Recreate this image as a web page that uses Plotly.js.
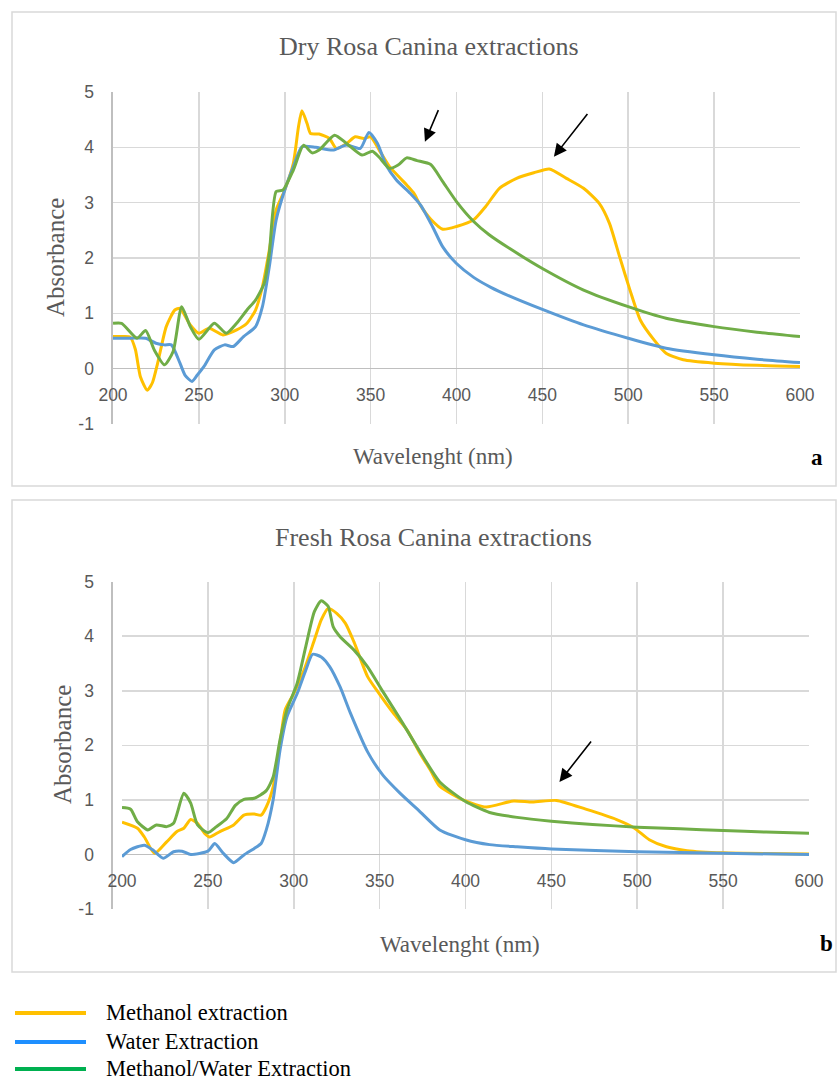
<!DOCTYPE html>
<html>
<head>
<meta charset="utf-8">
<script src="https://cdn.plot.ly/plotly-3.0.1.min.js"></script>
<style>html,body{margin:0;padding:0;background:#fff;}#chart{width:837px;height:1080px;}</style>
</head>
<body>
<div id="chart"></div>
<script>
// ---- Data ----
const seriesNames = ["Methanol extraction", "Water Extraction", "Methanol/Water Extraction"];
const panelTitles = ["Dry Rosa Canina extractions", "Fresh Rosa Canina extractions"];
const panelLabels = ["a", "b"];
const xTitle = "Wavelenght (nm)";
const yTitle = "Absorbance";
const xTicks = [200, 250, 300, 350, 400, 450, 500, 550, 600];
const yTicks = [-1, 0, 1, 2, 3, 4, 5];

// Dry extracts
const dryMethanolX = [200,205,210,213,216,220,223,226,231,236,239,245,250,256,264,272,278,283,287,291,295,300,305,308,310,313,315,320,326,330,336,341,346,350,355,361,367,371,375,379,385,392,400,410,417,425,435,445,454,464,474,483,489,495,501,507,515,522,532,550,575,600];
const dryMethanolY = [0.58,0.58,0.57,0.35,-0.15,-0.39,-0.25,0.10,0.76,1.06,1.09,0.79,0.64,0.73,0.61,0.70,0.82,1.06,1.48,2.14,2.87,3.23,3.71,4.37,4.66,4.43,4.25,4.24,4.16,3.98,4.07,4.19,4.16,4.19,3.95,3.65,3.45,3.32,3.18,2.95,2.70,2.52,2.57,2.69,2.93,3.26,3.44,3.54,3.61,3.44,3.26,2.99,2.63,2.02,1.42,0.88,0.52,0.28,0.16,0.10,0.06,0.04];

const dryWaterX = [200,210,219,225,230,234,239,242,246,249,253,259,265,270,276,283,287,291,295,300,305,310,318,328,336,344,349,354,359,365,373,379,386,392,400,410,420,431,450,474,500,522,550,575,600];
const dryWaterY = [0.55,0.55,0.55,0.46,0.43,0.43,0.10,-0.12,-0.23,-0.12,0.04,0.34,0.43,0.40,0.58,0.76,1.12,1.84,2.69,3.23,3.65,4.01,4.00,3.95,4.04,3.98,4.27,4.07,3.68,3.41,3.17,2.96,2.57,2.20,1.90,1.65,1.47,1.31,1.07,0.79,0.55,0.37,0.25,0.17,0.11];

const dryMixX = [200,205,214,219,224,230,235,240,245,250,259,266,272,278,283,288,291,295,299,305,311,316,320,329,336,345,351,355,361,366,371,377,385,392,400,410,419,431,450,474,500,522,550,575,600];
const dryMixY = [0.82,0.82,0.55,0.69,0.34,0.07,0.31,1.12,0.76,0.53,0.82,0.64,0.82,1.06,1.24,1.54,2.08,3.20,3.23,3.59,4.04,3.90,3.95,4.22,4.07,3.86,3.93,3.82,3.62,3.68,3.81,3.76,3.69,3.38,3.02,2.66,2.42,2.17,1.81,1.42,1.12,0.91,0.76,0.66,0.58];

// Fresh extracts
const freshMethanolX = [200,209,213,219,226,232,236,240,244,248,251,257,265,271,277,281,284,288,292,295,300,306,312,316,320,325,330,335,343,349,358,366,373,380,385,400,412,428,439,453,470,488,498,507,517,529,550,600];
const freshMethanolY = [0.59,0.48,0.32,0.02,0.23,0.42,0.48,0.64,0.57,0.39,0.32,0.42,0.54,0.72,0.74,0.72,0.87,1.24,2.04,2.65,2.95,3.38,3.93,4.30,4.51,4.42,4.24,3.90,3.26,2.98,2.59,2.28,1.88,1.52,1.25,0.98,0.87,0.98,0.96,0.99,0.83,0.64,0.49,0.27,0.14,0.07,0.03,0.01];

const freshWaterX = [200,205,213,218,224,230,235,240,250,254,259,265,271,277,281,284,288,292,296,302,307,311,316,321,327,333,343,352,362,373,385,400,414,430,450,500,550,600];
const freshWaterY = [-0.04,0.09,0.17,0.08,-0.07,0.05,0.06,0.00,0.06,0.20,0.02,-0.15,-0.01,0.11,0.20,0.45,1.00,1.91,2.52,2.95,3.38,3.67,3.62,3.44,3.07,2.59,1.88,1.45,1.12,0.80,0.45,0.27,0.18,0.14,0.10,0.05,0.02,0.00];

const freshMixX = [200,205,209,215,220,226,230,236,240,244,250,255,261,266,271,277,284,288,292,296,302,307,312,316,320,323,327,335,343,352,362,373,385,400,414,430,450,474,500,525,550,575,600];
const freshMixY = [0.86,0.83,0.60,0.45,0.54,0.51,0.57,1.12,0.94,0.54,0.40,0.51,0.66,0.90,1.01,1.03,1.17,1.42,2.10,2.65,3.14,3.81,4.45,4.65,4.55,4.17,3.99,3.75,3.44,2.98,2.48,1.91,1.33,0.97,0.77,0.68,0.61,0.55,0.50,0.47,0.44,0.41,0.39];

// ---- Styling ----
const W = 837, H = 1080;
const lineColors = ["#FFC000", "#5B9BD5", "#70AD47"];
const legendColors = ["#FFC000", "#1E8FFF", "#00B050"];
const serif = "Liberation Serif, Times New Roman, serif";
const sans = "Liberation Sans, Arial, sans-serif";
const gray = "#595959";
const px = v => v / W;
const py = v => 1 - v / H;

function trace(x, y, i, xa, ya) {
  return {x: x, y: y, type: "scatter", mode: "lines", name: seriesNames[i],
    xaxis: xa, yaxis: ya, showlegend: false,
    line: {color: lineColors[i], width: 3, shape: "spline", smoothing: 0.6},
    hoverinfo: "x+y"};
}

const data = [
  trace(dryMethanolX, dryMethanolY, 0, "x", "y"),
  trace(dryWaterX, dryWaterY, 1, "x", "y"),
  trace(dryMixX, dryMixY, 2, "x", "y"),
  trace(freshMethanolX, freshMethanolY, 0, "x2", "y2"),
  trace(freshWaterX, freshWaterY, 1, "x2", "y2"),
  trace(freshMixX, freshMixY, 2, "x2", "y2")
];

// panel geometry in pixels
const panels = [
  {left: 113, right: 800, top: 92, bottom: 424, zero: 368.7,
   box: [12, 12, 836, 486], titleX: 428.5, titleY: 47, xTitleX: 433.5, xTitleY: 456,
   yTitleX: 55, yTitleY: 258, labelX: 817, labelY: 457},
  {left: 122, right: 809, top: 581.7, bottom: 909, zero: 854.3,
   box: [12, 500, 836, 972], titleX: 433.5, titleY: 537, xTitleX: 459.5, xTitleY: 944,
   yTitleX: 62, yTitleY: 745, labelX: 826, labelY: 943}
];

function xAxis(p) {
  return {domain: [px(p.left), px(p.right)], range: [200, 600], anchor: "free",
    position: py(p.zero), tickvals: xTicks, ticktext: xTicks.map(String),
    showgrid: true, gridcolor: "#d9d9d9", gridwidth: 1.6, zeroline: false,
    showline: false, ticks: "", ticklabelstandoff: 14,
    tickfont: {family: sans, size: 17.5, color: gray}, fixedrange: true};
}
function yAxis(p) {
  return {domain: [py(p.bottom), py(p.top)], range: [-1, 5], tickvals: yTicks,
    ticktext: yTicks.map(String), showgrid: true, gridcolor: "#d9d9d9", gridwidth: 1.6,
    zeroline: true, zerolinecolor: "#bfbfbf", zerolinewidth: 1.6,
    showline: true, linecolor: "#bfbfbf", linewidth: 1.6, ticks: "",
    ticklabelstandoff: 14, tickfont: {family: sans, size: 17.5, color: gray}, fixedrange: true};
}

const shapes = [];
const annotations = [];
panels.forEach((p, i) => {
  shapes.push({type: "rect", xref: "paper", yref: "paper",
    x0: px(p.box[0]), x1: px(p.box[2]), y0: py(p.box[3]), y1: py(p.box[1]),
    line: {color: "#d9d9d9", width: 1.5}, fillcolor: "rgba(0,0,0,0)", layer: "below"});
  annotations.push({text: panelTitles[i], xref: "paper", yref: "paper",
    x: px(p.titleX), y: py(p.titleY), showarrow: false,
    xanchor: "center", yanchor: "middle", font: {family: serif, size: 26, color: gray}});
  annotations.push({text: xTitle, xref: "paper", yref: "paper",
    x: px(p.xTitleX), y: py(p.xTitleY), showarrow: false,
    xanchor: "center", yanchor: "middle", font: {family: serif, size: 23, color: gray}});
  annotations.push({text: yTitle, xref: "paper", yref: "paper", textangle: -90,
    x: px(p.yTitleX), y: py(p.yTitleY), showarrow: false,
    xanchor: "center", yanchor: "middle", font: {family: serif, size: 25, color: gray}});
  annotations.push({text: "<b>" + panelLabels[i] + "</b>", xref: "paper", yref: "paper",
    x: px(p.labelX), y: py(p.labelY), showarrow: false,
    xanchor: "center", yanchor: "middle", font: {family: serif, size: 23, color: "#000"}});
});

// arrows (data coordinates)
const arrowDefs = [
  {xa: "x", ya: "y", tip: [381.6, 4.1], tail: [389.8, 4.7]},
  {xa: "x", ya: "y", tip: [456.7, 3.83], tail: [476.9, 4.63]},
  {xa: "x2", ya: "y2", tip: [454.7, 1.33], tail: [473.8, 2.1]}
];
arrowDefs.forEach(a => {
  annotations.push({xref: a.xa, yref: a.ya, axref: a.xa, ayref: a.ya,
    x: a.tip[0], y: a.tip[1], ax: a.tail[0], ay: a.tail[1], text: "",
    showarrow: true, arrowhead: 2, arrowsize: 1.6, arrowwidth: 1.6,
    arrowcolor: "#000", standoff: 0, startstandoff: 0});
});

// legend drawn below the panels
const legendY = [1013, 1042, 1069];
seriesNames.forEach((n, i) => {
  shapes.push({type: "line", xref: "paper", yref: "paper",
    x0: px(15), x1: px(86), y0: py(legendY[i]), y1: py(legendY[i]),
    line: {color: legendColors[i], width: 4}});
  annotations.push({text: n, xref: "paper", yref: "paper", x: px(104), y: py(legendY[i] - 1),
    xanchor: "left", yanchor: "middle", showarrow: false,
    font: {family: serif, size: 22.5, color: "#000"}});
});

const layout = {
  width: W, height: H, margin: {l: 0, r: 0, t: 0, b: 0},
  paper_bgcolor: "#fff", plot_bgcolor: "rgba(0,0,0,0)", showlegend: false,
  xaxis: xAxis(panels[0]), yaxis: yAxis(panels[0]),
  xaxis2: xAxis(panels[1]), yaxis2: yAxis(panels[1]),
  shapes: shapes, annotations: annotations
};

Plotly.newPlot("chart", data, layout, {displayModeBar: false, staticPlot: true});
</script>
</body>
</html>
